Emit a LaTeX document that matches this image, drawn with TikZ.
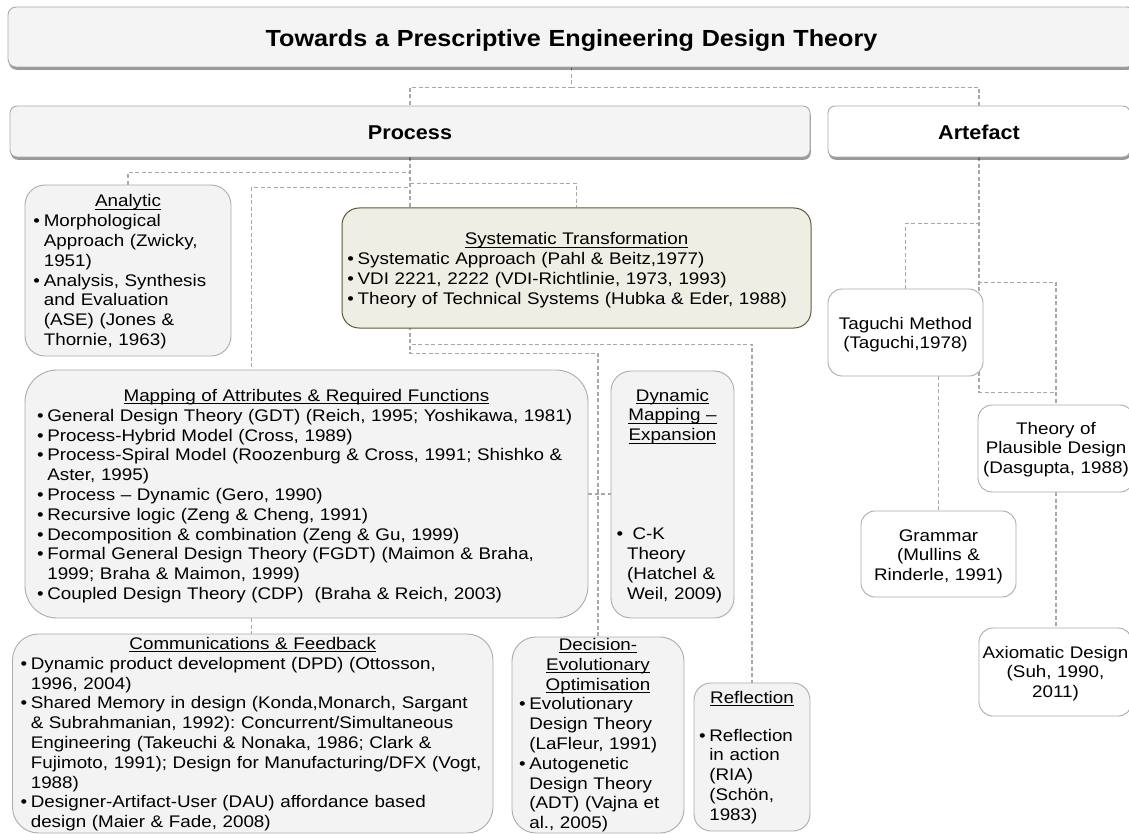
\documentclass[tikz,border=0pt]{standalone}
\usepackage{fontspec}
\setmainfont{Liberation Sans}[FakeStretch=1.12]
\newfontfamily\headfam{Liberation Sans}[FakeStretch=1.08]
\usetikzlibrary{shadows,backgrounds}
\frenchspacing

\definecolor{edgegray}{HTML}{ABABAB}
\definecolor{linkgray}{HTML}{A8A8A8}
\definecolor{panelfill}{HTML}{F3F3F3}
\definecolor{headfill}{HTML}{F4F4F4}
\definecolor{sysfill}{HTML}{EEEEE5}
\definecolor{sysedge}{HTML}{5E5937}

\newcommand\bodyfont{\fontsize{16.8}{19.8}\selectfont}
\newcommand\titlefont{\headfam\bfseries\fontsize{23.3}{28}\selectfont}
\newcommand\bannerfont{\headfam\bfseries\fontsize{20}{24}\selectfont}

% bullet column width, underlined headings, centred and bulleted lines
\newlength\bw \setlength\bw{10.3pt}
\newlength\ulw
\newcommand\ulin[1]{\settowidth\ulw{#1}\rlap{\rule[-2.8pt]{\ulw}{0.9pt}}#1}
\newcommand\hdr[1]{\makebox[\linewidth]{\ulin{#1}}}
\newcommand\ctr[1]{\makebox[\linewidth]{#1}}
\newcommand\bitem[1]{\mbox{\makebox[\bw][l]{•}#1}}
\newcommand\cont[1]{\mbox{\hspace*{\bw}#1}}

\tikzset{
  banner/.style={draw=edgegray, line width=0.9pt, inner ysep=0pt, inner xsep=10pt,
    drop shadow={shadow xshift=0.8pt, shadow yshift=-2.8pt, opacity=0.4, fill=black}},
  panel/.style={draw=edgegray, line width=0.9pt, fill=panelfill, inner ysep=0pt,
    align=left, font=\bodyfont},
  leaf/.style={draw=edgegray, line width=0.9pt, fill=white, inner xsep=4pt,
    inner ysep=0pt, align=left, font=\bodyfont, rounded corners=14pt},
  link/.style={draw=linkgray, line width=1.1pt, dash pattern=on 4pt off 2.5pt},
}

\begin{document}
\begin{tikzpicture}[x=1pt, y=-1pt]
\useasboundingbox (0,0) rectangle (1129,834);
\clip (0,0) rectangle (1129,834);

% ---- top level ----
\node[banner, fill=headfill, rounded corners=8pt, text width=1107pt,
      text height=39.7pt, text depth=20.3pt, font=\titlefont] (title) at (571.5,37)
  {\ctr{Towards a Prescriptive Engineering Design Theory}};

\node[banner, fill=headfill, rounded corners=7pt, text width=780pt,
      text height=33.3pt, text depth=17.7pt, font=\bannerfont] (process) at (410,131.5)
  {\ctr{Process}};

\node[banner, fill=white, rounded corners=7pt, text width=282pt,
      text height=33.3pt, text depth=17.7pt, font=\bannerfont] (art) at (979,131.5)
  {\ctr{Artefact}};

% ---- process branch ----
\node[panel, rounded corners=20pt, inner xsep=8.5pt, text width=189pt,
      text height=22pt, text depth=149pt] (ana) at (128,270.5)
  {\hdr{Analytic}\\
   \bitem{Morphological}\\
   \cont{Approach (Zwicky,}\\
   \cont{1951)}\\
   \bitem{Analysis, Synthesis}\\
   \cont{and Evaluation}\\
   \cont{(ASE) (Jones \&}\\
   \cont{Thornie, 1963)}};

\node[panel, draw=sysedge, fill=sysfill, line width=1pt, rounded corners=17pt,
      inner xsep=5.4pt, text width=458.2pt, text height=37pt, text depth=83pt] (sys) at (576.5,268)
  {\hdr{Systematic Transformation}\\
   \bitem{Systematic Approach (Pahl \& Beitz,1977)}\\
   \bitem{VDI 2221, 2222 (VDI-Richtlinie, 1973, 1993)}\\
   \bitem{Theory of Technical Systems (Hubka \& Eder, 1988)}};

\node[panel, rounded corners=32pt, inner xsep=12pt, text width=539pt,
      text height=31.5pt, text depth=216.5pt] (map) at (306.5,494)
  {\hdr{Mapping of Attributes \& Required Functions}\\
   \bitem{General Design Theory (GDT) (Reich, 1995; Yoshikawa, 1981)}\\
   \bitem{Process-Hybrid Model (Cross, 1989)}\\
   \bitem{Process-Spiral Model (Roozenburg \& Cross, 1991; Shishko \&}\\
   \cont{Aster, 1995)}\\
   \bitem{Process – Dynamic (Gero, 1990)}\\
   \bitem{Recursive logic (Zeng \& Cheng, 1991)}\\
   \bitem{Decomposition \& combination (Zeng \& Gu, 1999)}\\
   \bitem{Formal General Design Theory (FGDT) (Maimon \& Braha,}\\
   \cont{1999; Braha \& Maimon, 1999)}\\
   \bitem{Coupled Design Theory (CDP)\ \ (Braha \& Reich, 2003)}};

\node[panel, rounded corners=20pt, inner xsep=5.7pt, text width=111.6pt,
      text height=30pt, text depth=217pt] (dyn) at (672.5,494.5)
  {\hdr{Dynamic}\\
   \hdr{Mapping –}\\
   \hdr{Expansion}\\[79.4pt]
   \bitem{\ C-K}\\
   \cont{Theory}\\
   \cont{(Hatchel \&}\\
   \cont{Weil, 2009)}};

\node[panel, rounded corners=26pt, inner xsep=8pt, text width=464.5pt,
      text height=15.5pt, text depth=183.5pt] (com) at (252.75,733.5)
  {\hdr{Communications \& Feedback}\\
   \bitem{Dynamic product development (DPD) (Ottosson,}\\
   \cont{1996, 2004)}\\
   \bitem{Shared Memory in design (Konda,Monarch, Sargant}\\
   \cont{\& Subrahmanian, 1992): Concurrent/Simultaneous}\\
   \cont{Engineering (Takeuchi \& Nonaka, 1986; Clark \&}\\
   \cont{Fujimoto, 1991); Design for Manufacturing/DFX (Vogt,}\\
   \cont{1988)}\\
   \bitem{Designer-Artifact-User (DAU) affordance based}\\
   \cont{design (Maier \& Fade, 2008)}};

\node[panel, rounded corners=24pt, inner xsep=7pt, text width=158pt,
      text height=13.5pt, text depth=182.5pt] (dec) at (598,735)
  {\hdr{Decision-}\\
   \hdr{Evolutionary}\\
   \hdr{Optimisation}\\
   \bitem{Evolutionary}\\
   \cont{Design Theory}\\
   \cont{(LaFleur, 1991)}\\
   \bitem{Autogenetic}\\
   \cont{Design Theory}\\
   \cont{(ADT) (Vajna et}\\
   \cont{al., 2005)}};

\node[panel, rounded corners=17pt, inner xsep=5pt, text width=106pt,
      text height=20.5pt, text depth=127.5pt] (ref) at (752,757)
  {\hdr{Reflection}\\[17.7pt]
   \bitem{Reflection}\\
   \cont{in action}\\
   \cont{(RIA)}\\
   \cont{(Schön,}\\
   \cont{1983)}};

% ---- artefact branch ----
\node[leaf, text width=147pt, text height=40pt, text depth=47pt] (tag) at (905.5,332.5)
  {\ctr{Taguchi Method}\\\ctr{(Taguchi,1978)}};

\node[leaf, text width=148pt, text height=29pt, text depth=58pt] (pla) at (1056,448.5)
  {\ctr{Theory of}\\\ctr{Plausible Design}\\\ctr{(Dasgupta, 1988)}};

\node[leaf, text width=147pt, text height=30pt, text depth=56pt] (gra) at (938.5,554)
  {\ctr{Grammar}\\\ctr{(Mullins \&}\\\ctr{Rinderle, 1991)}};

\node[leaf, text width=145pt, text height=30pt, text depth=58pt] (axi) at (1055.5,672)
  {\ctr{Axiomatic Design}\\\ctr{(Suh, 1990,}\\\ctr{2011)}};

% ---- dashed hierarchy links ----
\begin{pgfonlayer}{background}
  \draw[link] (title.south) -- ++(0,20) -| (process.north);
  \draw[link] (title.south) -- ++(0,20) -| (art.north);

  \draw[link] (process.south) -- ++(0,15) -| (ana.north);
  \draw[link] (process.south) -- ++(0,30) -| ([xshift=227pt]map.north west);
  \draw[link] (process.south) -- ++(0,26) -| (sys.north);
  \draw[link] (process.south) -- ++(0,187) -| (ref.north);
  \draw[link] (process.south) -- ++(0,196) -| (dec.north);
  \draw[link] (map.east) -- (map.east -| dyn.west);
  \draw[link] ([xshift=227pt]map.south west) -- ([xshift=239.5pt]com.north west);

  \draw[link] (art.south) -- ++(0,66) -| (tag.north);
  \draw[link] (art.south) -- ++(0,125) -| (pla.north);
  \draw[link] (art.south) -- ++(0,235) -| (pla.north);
  \draw[link] (tag.south -| gra.north) -- (gra.north);
  \draw[link] (pla.south) -- (pla.south |- axi.north);
\end{pgfonlayer}
\end{tikzpicture}
\end{document}
